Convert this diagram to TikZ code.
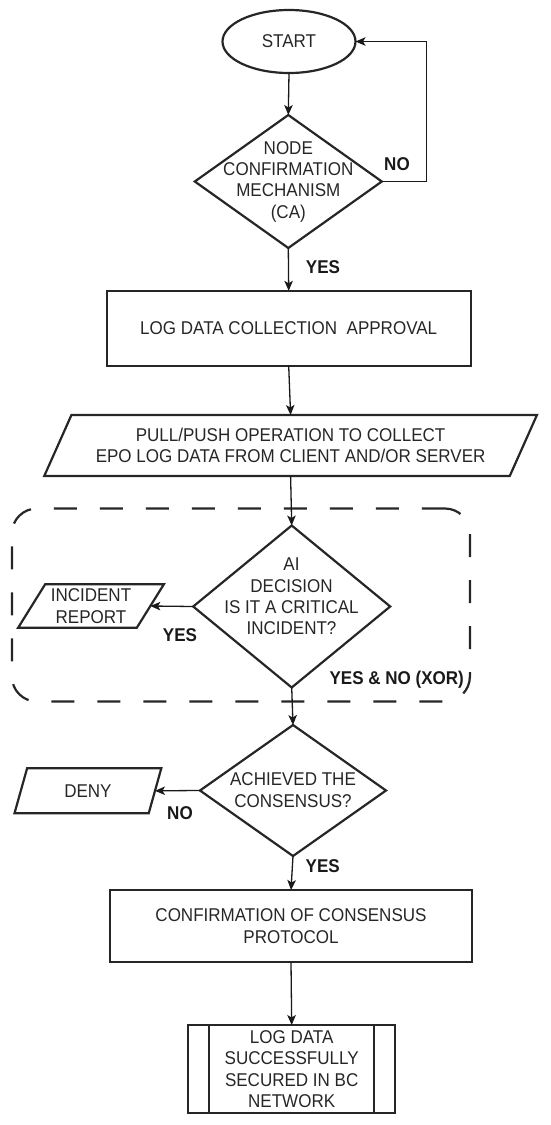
\documentclass[tikz,border=0pt]{standalone}
\usepackage{fontspec}
\setmainfont{Liberation Sans}
\newfontfamily\narrowsans[FakeStretch=0.92]{Liberation Sans}
\usetikzlibrary{shapes.geometric,arrows.meta,calc}
\begin{document}
\begin{tikzpicture}[x=1pt,y=-1pt,
  every node/.style={font=\narrowsans\fontsize{18.5}{21.3}\selectfont, text=black!85, inner sep=0pt, outer sep=0pt},
  shp/.style={draw=black!85, line width=2.2pt},
  conn/.style={draw=black!90, line width=1.3pt, -{Stealth[length=10pt,width=8.5pt,inset=2.5pt]}},
  lbl/.style={font=\narrowsans\fontsize{18.5}{21.3}\selectfont\bfseries, text=black!90},
  txt/.style={align=center},
  boxnode/.style={shp, rectangle, align=center},
  dia/.style={shp, diamond},
  paranode/.style={rectangle, align=center},
]
\useasboundingbox (0,0) rectangle (550,1125);

% group frame
\node[draw=black!85, line width=2.2pt, dash pattern=on 23pt off 23pt, rounded corners=25pt,
      minimum width=458pt, minimum height=193pt] (grp) at (240.9,605) {};

% shapes
\node[shp, ellipse, minimum width=133pt, minimum height=63pt] (st) at (289,41.5) {START};

\node[dia, minimum width=187pt, minimum height=133pt] (d1) at (288.3,181.5) {};
\node[txt] (d1t) at (288.3,181.7) {NODE\\CONFIRMATION\\MECHANISM\\(CA)};

\node[boxnode, minimum width=364pt, minimum height=75pt] (b1) at (288.7,328.3) {LOG DATA COLLECTION\ \ APPROVAL};

\node[paranode, minimum width=465.5pt, minimum height=61pt] (p1) at (290.6,445.5)
  {PULL/PUSH OPERATION TO COLLECT\\EPO LOG DATA FROM CLIENT AND/OR SERVER};
\draw[shp] ($(p1.south west)+(-13.6,0)$) -- ($(p1.north west)+(13.6,0)$)
  -- ($(p1.north east)+(13.6,0)$) -- ($(p1.south east)+(-13.6,0)$) -- cycle;

\node[dia, minimum width=197pt, minimum height=162pt] (d2) at (291.7,606.5) {};
\node[txt] (d2t) at (291.5,596.5) {AI\\DECISION\\IS IT A CRITICAL\\INCIDENT?};

\node[paranode, minimum width=118.7pt, minimum height=43.4pt] (ir) at (91,606) {INCIDENT\\REPORT};
\draw[shp] ($(ir.south west)+(-13.5,0)$) -- ($(ir.north west)+(13.5,0)$)
  -- ($(ir.north east)+(13.5,0)$) -- ($(ir.south east)+(-13.5,0)$) -- cycle;

\node[dia, minimum width=186pt, minimum height=131pt] (d3) at (293,790.5) {};
\node[txt] (d3t) at (293,790) {ACHIEVED THE\\CONSENSUS?};

\node[paranode, minimum width=134.2pt, minimum height=45pt] (dn) at (87.9,790.8) {DENY};
\draw[shp] ($(dn.south west)+(-6.3,0)$) -- ($(dn.north west)+(6.3,0)$)
  -- ($(dn.north east)+(6.3,0)$) -- ($(dn.south east)+(-6.3,0)$) -- cycle;

\node[boxnode, minimum width=362pt, minimum height=72pt] (b3) at (291,926) {CONFIRMATION OF CONSENSUS\\PROTOCOL};

\node[boxnode, minimum width=206.7pt, minimum height=88.3pt] (b4) at (291.7,1069.2)
  {LOG DATA\\SUCCESSFULLY\\SECURED IN BC\\NETWORK};
\draw[shp] ($(b4.north west)+(21,0)$) -- ($(b4.south west)+(21,0)$);
\draw[shp] ($(b4.north east)+(-21,0)$) -- ($(b4.south east)+(-21,0)$);

% connectors
\draw[conn] (st.south) -- (d1.north);
\draw[conn] (d1.east) -- ++(45,0) |- (st.east);
\draw[conn] (d1.south) -- (b1.north);
\draw[conn] (b1.south) -- (p1.north);
\draw[conn] (p1.south) -- (d2.north);
\draw[conn] (d2.west) -- (ir.east);
\draw[conn] (d2.south) -- (d3.north);
\draw[conn] (d3.west) -- (dn.east);
\draw[conn] (d3.south) -- (b3.north);
\draw[conn] (b3.south) -- (b4.north);

% labels
\node[lbl] (lno1) at (397,164.3) {NO};
\node[lbl] (lyes1) at (323,266.7) {YES};
\node[lbl] (lyes2) at (180,635) {YES};
\node[lbl] (lxor) at (396.7,680) {YES \& NO (XOR)};
\node[lbl] (lno2) at (180,812.7) {NO};
\node[lbl] (lyes3) at (322.7,865.7) {YES};
\end{tikzpicture}
\end{document}
